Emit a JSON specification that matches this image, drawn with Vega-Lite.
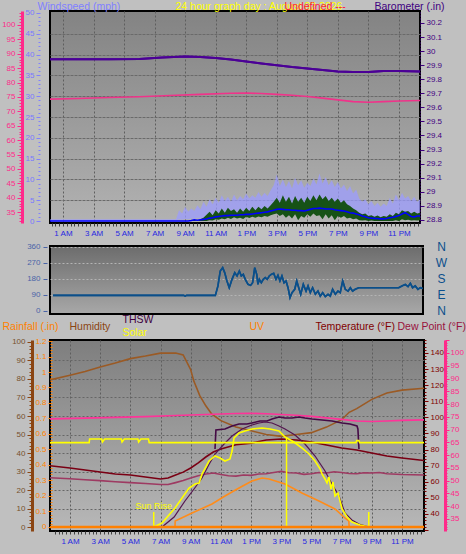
{
"$schema": "https://vega.github.io/schema/vega-lite/v6.json",
"background": "#c0c0c0",
"padding": 0,
"autosize": {"type": "pad"},
"columns": 1,
"align": "none",
"bounds": "full",
"spacing": -5,
"config": {
 "font": "Liberation Sans",
 "axis": {"labelFont": "Liberation Sans Narrow, Liberation Sans", "labelFontSize": 8, "titleFont": "Liberation Sans", "titleFontSize": 10.5, "titleFontWeight": "normal", "labelOverlap": false, "labelFlush": false, "labelBound": false},
 "view": {"stroke": "#000", "strokeWidth": 2}
},
"datasets": {
 "baro": [{"h":-0.24,"v":29.942},{"h":2,"v":29.942},{"h":4,"v":29.942},{"h":6,"v":29.944},{"h":7.5,"v":29.955},{"h":9,"v":29.962},{"h":10,"v":29.958},{"h":11,"v":29.951},{"h":12,"v":29.94},{"h":13,"v":29.926},{"h":14,"v":29.912},{"h":15,"v":29.9},{"h":16,"v":29.887},{"h":17,"v":29.877},{"h":18,"v":29.866},{"h":19,"v":29.855},{"h":20,"v":29.852},{"h":21,"v":29.852},{"h":22,"v":29.859},{"h":23,"v":29.859},{"h":24.38,"v":29.855}],
 "intemp": [{"h":-0.33,"v":74.2},{"h":2,"v":74.5},{"h":4,"v":74.8},{"h":6,"v":75.1},{"h":8,"v":75.5},{"h":10,"v":75.9},{"h":12,"v":76.3},{"h":13,"v":76.4},{"h":14,"v":76.2},{"h":15,"v":75.9},{"h":16,"v":75.6},{"h":17,"v":75.2},{"h":18,"v":74.6},{"h":19,"v":74},{"h":20,"v":73.4},{"h":21,"v":73.2},{"h":22,"v":73.4},{"h":23,"v":73.6},{"h":24.46,"v":73.8}],
 "wind": [
  {"h":-0.24,"gh":0.4,"gl":0,"sh":0,"sl":0,"a":0},{"h":8.4,"gh":0.4,"gl":0,"sh":0,"sl":0,"a":0},
  {"h":8.6,"gh":2.6,"gl":0.4,"sh":0,"sl":0,"a":0},{"h":8.8,"gh":1.8,"gl":0.3,"sh":0,"sl":0,"a":0},
  {"h":9.0,"gh":3.4,"gl":0.5,"sh":0,"sl":0,"a":0},{"h":9.2,"gh":2.2,"gl":0.4,"sh":0,"sl":0,"a":0},
  {"h":9.4,"gh":3.0,"gl":0.6,"sh":0,"sl":0,"a":0.1},{"h":9.6,"gh":2.4,"gl":0.5,"sh":0.3,"sl":0,"a":0.3},
  {"h":9.8,"gh":3.8,"gl":0.7,"sh":0,"sl":0,"a":0.2},{"h":10.0,"gh":2.8,"gl":0.6,"sh":0.4,"sl":0,"a":0.3},
  {"h":10.2,"gh":4.6,"gl":0.9,"sh":0.8,"sl":0,"a":0.4},{"h":10.4,"gh":3.4,"gl":1.0,"sh":1.5,"sl":0,"a":0.5},
  {"h":10.6,"gh":5.2,"gl":1.2,"sh":2.2,"sl":0.2,"a":0.7},{"h":10.8,"gh":4.0,"gl":1.3,"sh":1.4,"sl":0.1,"a":0.8},
  {"h":11.0,"gh":5.6,"gl":1.5,"sh":2.6,"sl":0.4,"a":1.0},{"h":11.2,"gh":4.4,"gl":1.6,"sh":1.8,"sl":0.3,"a":1.1},
  {"h":11.4,"gh":6.2,"gl":1.8,"sh":3.0,"sl":0.6,"a":1.2},{"h":11.6,"gh":4.8,"gl":1.7,"sh":2.0,"sl":0.4,"a":1.3},
  {"h":11.8,"gh":5.8,"gl":2.0,"sh":3.2,"sl":0.8,"a":1.3},{"h":12.0,"gh":4.6,"gl":1.8,"sh":2.4,"sl":0.5,"a":1.4},
  {"h":12.2,"gh":6.4,"gl":2.1,"sh":2.8,"sl":0.9,"a":1.4},{"h":12.4,"gh":5.0,"gl":1.9,"sh":2.0,"sl":0.6,"a":1.4},
  {"h":12.6,"gh":6.0,"gl":2.2,"sh":3.0,"sl":0.8,"a":1.5},{"h":12.8,"gh":5.2,"gl":2.0,"sh":2.2,"sl":0.5,"a":1.5},
  {"h":13.0,"gh":6.6,"gl":2.3,"sh":3.2,"sl":1.0,"a":1.6},{"h":13.2,"gh":5.4,"gl":2.1,"sh":2.4,"sl":0.7,"a":1.6},
  {"h":13.4,"gh":6.2,"gl":2.4,"sh":3.4,"sl":1.0,"a":1.7},{"h":13.6,"gh":5.6,"gl":2.2,"sh":2.6,"sl":0.8,"a":1.8},
  {"h":13.8,"gh":7.0,"gl":2.6,"sh":3.4,"sl":1.1,"a":1.9},{"h":14.0,"gh":5.8,"gl":2.4,"sh":2.8,"sl":0.9,"a":2.0},
  {"h":14.2,"gh":6.8,"gl":2.6,"sh":3.6,"sl":1.2,"a":2.1},{"h":14.4,"gh":6.0,"gl":2.5,"sh":3.0,"sl":1.0,"a":2.2},
  {"h":14.6,"gh":7.4,"gl":2.8,"sh":3.8,"sl":1.4,"a":2.4},{"h":14.8,"gh":8.6,"gl":3.0,"sh":4.6,"sl":1.6,"a":2.6},
  {"h":15.0,"gh":11.2,"gl":3.4,"sh":5.6,"sl":1.8,"a":2.8},{"h":15.2,"gh":8.4,"gl":3.2,"sh":4.4,"sl":1.2,"a":2.9},
  {"h":15.4,"gh":10.0,"gl":3.6,"sh":6.2,"sl":1.6,"a":2.8},{"h":15.6,"gh":8.2,"gl":3.4,"sh":4.6,"sl":0.8,"a":2.7},
  {"h":15.8,"gh":9.6,"gl":3.5,"sh":5.8,"sl":1.4,"a":2.7},{"h":16.0,"gh":7.8,"gl":3.2,"sh":4.2,"sl":0.6,"a":2.6},
  {"h":16.2,"gh":10.4,"gl":3.6,"sh":6.0,"sl":1.6,"a":2.6},{"h":16.4,"gh":8.6,"gl":3.3,"sh":4.6,"sl":0.2,"a":2.5},
  {"h":16.6,"gh":9.8,"gl":3.5,"sh":5.6,"sl":1.2,"a":2.5},{"h":16.8,"gh":8.0,"gl":3.2,"sh":4.4,"sl":0.8,"a":2.4},
  {"h":17.0,"gh":9.2,"gl":3.6,"sh":5.8,"sl":1.6,"a":2.6},{"h":17.2,"gh":8.4,"gl":3.4,"sh":4.8,"sl":1.0,"a":2.8},
  {"h":17.4,"gh":10.2,"gl":3.8,"sh":6.2,"sl":1.8,"a":3.0},{"h":17.6,"gh":8.8,"gl":3.5,"sh":5.0,"sl":1.2,"a":3.0},
  {"h":17.8,"gh":11.4,"gl":3.9,"sh":6.4,"sl":1.4,"a":3.1},{"h":18.0,"gh":9.0,"gl":3.6,"sh":5.2,"sl":0.4,"a":3.0},
  {"h":18.2,"gh":10.6,"gl":3.8,"sh":6.0,"sl":1.6,"a":2.9},{"h":18.4,"gh":8.6,"gl":3.4,"sh":4.8,"sl":0.6,"a":2.9},
  {"h":18.6,"gh":9.8,"gl":3.6,"sh":5.6,"sl":1.4,"a":2.9},{"h":18.8,"gh":8.2,"gl":3.2,"sh":4.6,"sl":0.2,"a":2.7},
  {"h":19.0,"gh":9.4,"gl":3.3,"sh":5.4,"sl":1.2,"a":2.6},{"h":19.2,"gh":7.8,"gl":3.0,"sh":4.4,"sl":0.8,"a":2.5},
  {"h":19.4,"gh":8.8,"gl":3.0,"sh":5.0,"sl":1.2,"a":2.4},{"h":19.6,"gh":7.2,"gl":2.8,"sh":4.0,"sl":0.6,"a":2.2},
  {"h":19.8,"gh":8.4,"gl":2.6,"sh":3.6,"sl":0.8,"a":2.0},{"h":20.0,"gh":6.6,"gl":2.2,"sh":3.0,"sl":0.4,"a":1.9},
  {"h":20.2,"gh":7.6,"gl":2.0,"sh":2.6,"sl":0.6,"a":1.7},{"h":20.4,"gh":5.4,"gl":1.6,"sh":2.0,"sl":0.2,"a":1.5},
  {"h":20.6,"gh":4.6,"gl":1.3,"sh":1.6,"sl":0.1,"a":1.2},{"h":20.8,"gh":5.2,"gl":1.1,"sh":1.8,"sl":0.2,"a":1.0},
  {"h":21.0,"gh":4.0,"gl":0.9,"sh":1.2,"sl":0,"a":0.8},{"h":21.2,"gh":4.8,"gl":0.8,"sh":1.4,"sl":0.1,"a":0.7},
  {"h":21.4,"gh":3.6,"gl":0.7,"sh":1.0,"sl":0,"a":0.6},{"h":21.6,"gh":4.4,"gl":0.8,"sh":1.3,"sl":0,"a":0.6},
  {"h":21.8,"gh":3.4,"gl":0.7,"sh":0.9,"sl":0,"a":0.5},{"h":22.0,"gh":4.2,"gl":0.8,"sh":1.2,"sl":0,"a":0.5},
  {"h":22.2,"gh":3.6,"gl":0.8,"sh":1.0,"sl":0,"a":0.6},{"h":22.4,"gh":5.6,"gl":1.0,"sh":1.6,"sl":0,"a":0.8},
  {"h":22.6,"gh":4.2,"gl":1.0,"sh":1.2,"sl":0,"a":0.9},{"h":22.8,"gh":6.4,"gl":1.2,"sh":2.0,"sl":0.2,"a":1.1},
  {"h":23.0,"gh":5.0,"gl":1.3,"sh":1.6,"sl":0,"a":1.3},{"h":23.2,"gh":6.8,"gl":1.6,"sh":2.6,"sl":0.4,"a":1.7},
  {"h":23.4,"gh":5.4,"gl":1.5,"sh":2.2,"sl":0.2,"a":2.0},{"h":23.6,"gh":6.0,"gl":1.4,"sh":2.4,"sl":0.3,"a":1.6},
  {"h":23.8,"gh":4.8,"gl":1.2,"sh":1.8,"sl":0.1,"a":1.1},{"h":24.0,"gh":5.8,"gl":1.3,"sh":2.2,"sl":0.2,"a":1.0},
  {"h":24.2,"gh":4.6,"gl":1.2,"sh":1.8,"sl":0.1,"a":1.2},{"h":24.38,"gh":5.2,"gl":1.3,"sh":2.0,"sl":0.2,"a":1.2}],
 "wdir": [{"h":0.35,"d":88},{"h":8.9,"d":88},{"h":9.0,"d":84},{"h":9.1,"d":88},{"h":10.98,"d":88},{"h":11.15,"d":141},{"h":11.3,"d":225},{"h":11.46,"d":244},{"h":11.59,"d":216},{"h":11.74,"d":169},{"h":11.89,"d":131},{"h":12.07,"d":178},{"h":12.25,"d":216},{"h":12.4,"d":197},{"h":12.55,"d":225},{"h":12.68,"d":197},{"h":12.81,"d":206},{"h":12.94,"d":178},{"h":13.12,"d":150},{"h":13.29,"d":144},{"h":13.42,"d":159},{"h":13.56,"d":244},{"h":13.69,"d":206},{"h":13.77,"d":150},{"h":13.86,"d":178},{"h":13.99,"d":159},{"h":14.12,"d":178},{"h":14.25,"d":188},{"h":14.38,"d":178},{"h":14.51,"d":197},{"h":14.64,"d":206},{"h":14.8,"d":212},{"h":14.95,"d":178},{"h":15.08,"d":201},{"h":15.21,"d":169},{"h":15.34,"d":197},{"h":15.48,"d":159},{"h":15.61,"d":169},{"h":15.74,"d":131},{"h":15.87,"d":75},{"h":16.0,"d":103},{"h":16.18,"d":122},{"h":16.31,"d":169},{"h":16.44,"d":131},{"h":16.57,"d":94},{"h":16.74,"d":150},{"h":16.92,"d":112},{"h":17.05,"d":141},{"h":17.2,"d":103},{"h":17.35,"d":131},{"h":17.53,"d":94},{"h":17.7,"d":112},{"h":17.85,"d":84},{"h":18.01,"d":103},{"h":18.18,"d":81},{"h":18.36,"d":94},{"h":18.51,"d":84},{"h":18.66,"d":122},{"h":18.84,"d":94},{"h":19.01,"d":112},{"h":19.16,"d":103},{"h":19.32,"d":169},{"h":19.49,"d":122},{"h":19.67,"d":112},{"h":19.82,"d":131},{"h":19.97,"d":112},{"h":20.14,"d":122},{"h":20.37,"d":131},{"h":22.99,"d":131},{"h":23.2,"d":141},{"h":23.42,"d":150},{"h":23.6,"d":137},{"h":23.75,"d":156},{"h":23.9,"d":131},{"h":24.07,"d":141},{"h":24.25,"d":122},{"h":24.4,"d":131},{"h":24.56,"d":127}],
 "hum": [{"h":-0.33,"v":79.5},{"h":1,"v":82},{"h":2,"v":84},{"h":3,"v":86.5},{"h":4,"v":88.6},{"h":5,"v":91},{"h":6,"v":92.4},{"h":7,"v":94},{"h":8,"v":94},{"h":8.5,"v":93},{"h":9,"v":85},{"h":9.2,"v":79},{"h":9.6,"v":71},{"h":10,"v":65.5},{"h":10.4,"v":61},{"h":11,"v":57.5},{"h":12,"v":54},{"h":13,"v":52},{"h":14,"v":50},{"h":15,"v":49},{"h":16,"v":50},{"h":17,"v":51},{"h":18,"v":54},{"h":19,"v":58},{"h":19.5,"v":62},{"h":20,"v":64},{"h":21,"v":69},{"h":22,"v":72.4},{"h":23,"v":74},{"h":24.46,"v":75}],
 "temp": [{"h":-0.33,"v":70},{"h":1,"v":68.6},{"h":2,"v":67.3},{"h":3,"v":66.1},{"h":4,"v":64.8},{"h":5,"v":64.2},{"h":6,"v":63},{"h":7,"v":61.7},{"h":7.5,"v":62.4},{"h":8,"v":64.2},{"h":8.5,"v":66},{"h":9,"v":68.6},{"h":9.5,"v":71.7},{"h":10,"v":75.4},{"h":10.5,"v":78.5},{"h":11,"v":80.4},{"h":12,"v":83},{"h":13,"v":84},{"h":14,"v":86},{"h":15,"v":86.6},{"h":16,"v":86},{"h":17,"v":84.7},{"h":18,"v":82.9},{"h":19,"v":81},{"h":20,"v":79.8},{"h":21,"v":77.9},{"h":22,"v":76},{"h":23,"v":74.8},{"h":24.46,"v":73.2}],
 "dew": [{"h":-0.33,"v":62.5},{"h":1,"v":61.9},{"h":2,"v":61.3},{"h":3,"v":60.7},{"h":4,"v":60},{"h":5,"v":59.5},{"h":6,"v":58.9},{"h":7,"v":58.3},{"h":7.5,"v":58.3},{"h":8,"v":59.5},{"h":8.5,"v":60.8},{"h":9,"v":62.4},{"h":9.5,"v":63.8},{"h":10,"v":64.8},{"h":10.5,"v":65.5},{"h":11,"v":64.5},{"h":11.5,"v":63.8},{"h":12,"v":63.5},{"h":12.5,"v":64.2},{"h":13,"v":64},{"h":13.5,"v":64.8},{"h":14,"v":65},{"h":14.5,"v":65.8},{"h":15,"v":66.5},{"h":15.5,"v":65.6},{"h":16,"v":65.5},{"h":16.5,"v":64.6},{"h":17,"v":65},{"h":17.5,"v":65.8},{"h":18,"v":65.5},{"h":18.5,"v":66.2},{"h":19,"v":65.8},{"h":19.5,"v":65.2},{"h":20,"v":65},{"h":20.5,"v":65.6},{"h":21,"v":65.5},{"h":21.5,"v":65.8},{"h":22,"v":65},{"h":23,"v":64.5},{"h":24.46,"v":64.2}],
 "thsw": [{"h":10.61,"v":80.4},{"h":10.67,"v":92.2},{"h":11.27,"v":92.8},{"h":11.74,"v":94.7},{"h":12.2,"v":95.9},{"h":12.73,"v":95.9},{"h":13.06,"v":96.5},{"h":13.59,"v":97.8},{"h":14.06,"v":97.8},{"h":14.39,"v":99},{"h":14.85,"v":100.2},{"h":15.25,"v":99.6},{"h":15.71,"v":99.6},{"h":16.18,"v":100.2},{"h":16.57,"v":99.6},{"h":17.04,"v":99},{"h":17.7,"v":98.4},{"h":18.36,"v":97.8},{"h":19.03,"v":96.5},{"h":19.56,"v":95.9},{"h":20.02,"v":94.7},{"h":20.08,"v":92.8},{"h":20.15,"v":80.4}],
 "solar": [{"h":-0.33,"v":0},{"h":6.55,"v":0},{"h":7.1,"v":36},{"h":7.96,"v":171},{"h":8.89,"v":351},{"h":9.29,"v":387},{"h":9.55,"v":396},{"h":9.75,"v":477},{"h":10.21,"v":594},{"h":10.61,"v":639},{"h":10.94,"v":621},{"h":11.27,"v":594},{"h":11.6,"v":612},{"h":11.74,"v":684},{"h":11.87,"v":801},{"h":12.2,"v":846},{"h":12.6,"v":864},{"h":13.06,"v":882},{"h":13.73,"v":891},{"h":14.26,"v":882},{"h":14.85,"v":864},{"h":15.25,"v":810},{"h":15.84,"v":765},{"h":16.37,"v":711},{"h":16.84,"v":657},{"h":17.24,"v":594},{"h":17.58,"v":522},{"h":17.7,"v":477},{"h":17.9,"v":432},{"h":18.03,"v":396},{"h":18.16,"v":450},{"h":18.3,"v":342},{"h":18.43,"v":405},{"h":18.56,"v":279},{"h":18.76,"v":306},{"h":19.03,"v":162},{"h":19.36,"v":90},{"h":19.68,"v":45},{"h":20.22,"v":18},{"h":20.81,"v":0},{"h":24.46,"v":0}],
 "bell": [{"h":7.1,"v":0},{"h":7.9,"v":90},{"h":8.62,"v":234},{"h":9.22,"v":342},{"h":9.75,"v":441},{"h":10.2,"v":560},{"h":10.61,"v":657},{"h":11.21,"v":747},{"h":11.74,"v":819},{"h":12.4,"v":882},{"h":13.06,"v":918},{"h":13.53,"v":936},{"h":13.92,"v":945},{"h":14.39,"v":936},{"h":14.85,"v":909},{"h":15.25,"v":882},{"h":15.91,"v":828},{"h":16.57,"v":747},{"h":17.24,"v":639},{"h":17.9,"v":504},{"h":18.36,"v":387},{"h":18.83,"v":279},{"h":19.22,"v":126},{"h":19.68,"v":63},{"h":20.15,"v":27},{"h":20.81,"v":0}],
 "solarmax": [{"h":-0.33,"v":759},{"h":2.27,"v":759},{"h":2.3,"v":792},{"h":3.1,"v":792},{"h":3.15,"v":765},{"h":3.3,"v":792},{"h":4.4,"v":792},{"h":4.45,"v":765},{"h":4.6,"v":792},{"h":5.5,"v":792},{"h":5.55,"v":765},{"h":5.7,"v":792},{"h":6.2,"v":792},{"h":6.25,"v":759},{"h":19.95,"v":759},{"h":20.0,"v":777},{"h":20.15,"v":777},{"h":20.2,"v":759},{"h":24.46,"v":759}],
 "uv": [{"h":-0.33,"v":0},{"h":7.96,"v":0},{"h":7.97,"v":0.6},{"h":9.09,"v":1.4},{"h":10.41,"v":2.3},{"h":11.27,"v":3.1},{"h":12.2,"v":3.9},{"h":13.06,"v":4.6},{"h":13.73,"v":4.9},{"h":14.19,"v":4.8},{"h":15.25,"v":4.3},{"h":16.37,"v":3.4},{"h":17.5,"v":2.6},{"h":18.56,"v":1.8},{"h":19.22,"v":0.9},{"h":19.48,"v":0.6},{"h":19.5,"v":0},{"h":24.46,"v":0}],
 "markers": [{"h":6.55,"lo":0,"hi":135,"label":"Sun Rise"},{"h":20.8,"lo":0,"hi":135,"label":""},{"h":15.35,"lo":0,"hi":804,"label":""}],
 "rain": [{"h":-0.33,"v":0},{"h":24.46,"v":0}]
},
"concat": [
 {
  "width": 370, "height": 212,
  "view": {"fill": {"gradient": "linear", "x1": 0, "y1": 0, "x2": 0, "y2": 1, "stops": [{"offset": 0, "color": "#838383"}, {"offset": 1, "color": "#b2b2b2"}]}, "stroke": "#000", "strokeWidth": 2},
  "encoding": {"x": {"field": "h", "type": "quantitative", "scale": {"domain": [0.15, 24.38], "nice": false, "zero": false},
   "axis": {"values": [0.25,0.5,0.75,1,1.25,1.5,1.75,2,2.25,2.5,2.75,3,3.25,3.5,3.75,4,4.25,4.5,4.75,5,5.25,5.5,5.75,6,6.25,6.5,6.75,7,7.25,7.5,7.75,8,8.25,8.5,8.75,9,9.25,9.5,9.75,10,10.25,10.5,10.75,11,11.25,11.5,11.75,12,12.25,12.5,12.75,13,13.25,13.5,13.75,14,14.25,14.5,14.75,15,15.25,15.5,15.75,16,16.25,16.5,16.75,17,17.25,17.5,17.75,18,18.25,18.5,18.75,19,19.25,19.5,19.75,20,20.25,20.5,20.75,21,21.25,21.5,21.75,22,22.25,22.5,22.75,23,23.25,23.5,23.75,24,24.25],
    "labelExpr": "datum.value % 2 == 1 ? (datum.value < 12 ? datum.value + ' AM' : (datum.value - 12) + ' PM') : ''",
    "labelColor": "#2828e0", "labelPadding": 3, "tickSize": 3, "tickColor": "#404040", "domain": false,
    "grid": true, "gridColor": "#5e5e5e", "gridDash": [2, 2], "gridOpacity": {"condition": {"test": "datum.value % 2 == 1", "value": 1}, "value": 0},
    "title": "x", "titleOpacity": 0, "titleX": -48, "titleY": 19, "titleAlign": "left", "titleBaseline": "bottom"}}},
  "layer": [
   {"data": {"name": "wind"}, "mark": {"type": "area", "color": "#9c9cff", "opacity": 0.75, "clip": true},
    "encoding": {"y": {"field": "gh", "type": "quantitative", "scale": {"domain": [-0.48, 50.48], "nice": false, "zero": false},
      "axis": {"orient": "left", "offset": 10, "values": [0,1,2,3,4,5,6,7,8,9,10,11,12,13,14,15,16,17,18,19,20,21,22,23,24,25,26,27,28,29,30,31,32,33,34,35,36,37,38,39,40,41,42,43,44,45,46,47,48,49,50],
       "labelExpr": "datum.value % 5 == 0 ? datum.label : ''", "labelColor": "#7878ff", "labelPadding": 2,
       "tickColor": "#8080ff", "tickSize": {"condition": {"test": "datum.value % 5 == 0", "value": 4}, "value": 2}, "domain": false,
       "grid": true, "gridColor": "#6a6a6a", "gridDash": [3, 1], "gridOpacity": {"condition": {"test": "datum.value % 5 == 0 && datum.value > 0 && datum.value < 50", "value": 1}, "value": 0},
       "title": "Windspeed (mph)", "titleColor": "#8080ff", "titleAngle": 0, "titleX": -3, "titleY": 0.5, "titleAlign": "left", "titleBaseline": "bottom"}},
     "y2": {"field": "gl"}}},
   {"data": {"name": "wind"}, "mark": {"type": "area", "color": "#165216", "clip": true},
    "encoding": {"y": {"field": "sh", "type": "quantitative", "scale": {"domain": [-0.48, 50.48], "nice": false, "zero": false}, "axis": null}, "y2": {"field": "sl"}}},
   {"data": {"name": "wind"}, "mark": {"type": "line", "color": "#0000ff", "strokeWidth": 1.6, "clip": true},
    "encoding": {"y": {"field": "a", "type": "quantitative", "scale": {"domain": [-0.48, 50.48], "nice": false, "zero": false}, "axis": null}}},
   {"data": {"name": "baro"}, "mark": {"type": "line", "color": "#4b0096", "strokeWidth": 2, "clip": true},
    "encoding": {"y": {"field": "v", "type": "quantitative", "scale": {"domain": [28.778, 30.285], "nice": false, "zero": false},
      "axis": {"orient": "left", "offset": 0, "domain": false, "ticks": false, "labels": false, "grid": false, "title": "24 hour graph day : August 02 2026", "titleColor": "#ffff00", "titleAngle": 0, "titleX": 125, "titleY": 0.5, "titleAlign": "left", "titleBaseline": "bottom"}}}},
   {"data": {"name": "intemp"}, "mark": {"type": "line", "color": "#f0338a", "strokeWidth": 1.6, "clip": true},
    "encoding": {"y": {"field": "v", "type": "quantitative", "scale": {"domain": [31.25, 104.86], "nice": false, "zero": false},
      "axis": {"orient": "left", "offset": 28, "values": [32,33,34,35,36,37,38,39,40,41,42,43,44,45,46,47,48,49,50,51,52,53,54,55,56,57,58,59,60,61,62,63,64,65,66,67,68,69,70,71,72,73,74,75,76,77,78,79,80,81,82,83,84,85,86,87,88,89,90,91,92,93,94,95,96,97,98,99,100,101,102,103,104],
       "labelExpr": "datum.value % 5 == 0 ? datum.label : ''", "labelColor": "#ff2a8a", "labelPadding": 2,
       "tickColor": "#ff2a8a", "tickSize": {"condition": {"test": "datum.value % 5 == 0", "value": 5}, "value": 3},
       "domain": true, "domainColor": "#ff2a8a", "domainWidth": 3, "grid": false,
       "title": "Undefined ---", "titleColor": "#ff1a3c", "titleAngle": 0, "titleX": 262, "titleY": 0.5, "titleAlign": "left", "titleBaseline": "bottom"}}}},
   {"data": {"name": "baro"}, "mark": {"type": "line", "color": "#4b0096", "strokeWidth": 2, "clip": true},
    "encoding": {"y": {"field": "v", "type": "quantitative", "scale": {"domain": [28.778, 30.285], "nice": false, "zero": false},
      "axis": {"orient": "right", "offset": 0, "values": [28.8,28.9,29,29.1,29.2,29.3,29.4,29.5,29.6,29.7,29.8,29.9,30,30.1,30.2],
       "labelExpr": "replace(format(datum.value, '.1f'), '.0', '')", "labelColor": "#400080", "labelPadding": 2,
       "tickColor": "#400080", "tickSize": 4, "domain": true, "domainColor": "#400080", "domainDash": [1, 2], "grid": false,
       "title": "Barometer (.in)", "titleColor": "#400080", "titleAngle": 0, "titleX": -46, "titleY": 0.5, "titleAlign": "left", "titleBaseline": "bottom"}}}}
  ],
  "resolve": {"scale": {"y": "independent"}, "axis": {"y": "independent"}}
 },
 {
  "width": 373, "height": 68,
  "view": {"fill": {"gradient": "linear", "x1": 0, "y1": 0, "x2": 0, "y2": 1, "stops": [{"offset": 0, "color": "#6c6c6c"}, {"offset": 1, "color": "#a8a8a8"}]}, "stroke": "#000", "strokeWidth": 2},
  "encoding": {"x": {"field": "h", "type": "quantitative", "scale": {"domain": [0.15, 24.58], "nice": false, "zero": false}, "axis": null}},
  "layer": [
   {"data": {"name": "wdir"}, "mark": {"type": "line", "color": "#0b4f8a", "strokeWidth": 1.6, "clip": true},
    "encoding": {"y": {"field": "d", "type": "quantitative", "scale": {"domain": [-16.9, 365.6], "nice": false, "zero": false},
      "axis": {"orient": "left", "offset": 3, "values": [0, 90, 180, 270, 360], "labelColor": "#4a64a8", "labelPadding": 3, "tickColor": "#4a64a8", "tickSize": 4, "domain": false,
       "grid": true, "gridColor": "#b4b4b4", "gridDash": [2, 2], "gridOpacity": {"condition": {"test": "datum.value > 0", "value": 1}, "value": 0},
       "title": "x", "titleOpacity": 0, "titleAngle": 0, "titleX": -45, "titleY": 34, "titleAlign": "left", "titleBaseline": "middle"}}}},
   {"data": {"name": "wdir"}, "mark": {"type": "line", "color": "#0b4f8a", "strokeWidth": 1.6, "clip": true},
    "encoding": {"y": {"field": "d", "type": "quantitative", "scale": {"domain": [-16.9, 365.6], "nice": false, "zero": false},
      "axis": {"orient": "right", "offset": 0, "values": [0, 90, 180, 270, 360], "labelExpr": "datum.value == 90 ? 'E' : datum.value == 180 ? 'S' : datum.value == 270 ? 'W' : 'N'",
       "labelColor": "#0b4f8c", "labelFont": "Liberation Sans", "labelFontSize": 12, "labelAlign": "center", "labelBaseline": "middle", "labelPadding": 18, "ticks": false, "tickSize": 0, "domain": false, "grid": false, "title": null}}}}
  ],
  "resolve": {"scale": {"y": "independent"}, "axis": {"y": "independent"}}
 },
 {
  "width": 374, "height": 191,
  "view": {"fill": {"gradient": "linear", "x1": 0, "y1": 0, "x2": 0, "y2": 1, "stops": [{"offset": 0, "color": "#7e7e7e"}, {"offset": 1, "color": "#b8b8b8"}]}, "stroke": "#000", "strokeWidth": 2},
  "encoding": {"x": {"field": "h", "type": "quantitative", "scale": {"domain": [-0.325, 24.46], "nice": false, "zero": false},
   "axis": {"values": [0,0.25,0.5,0.75,1,1.25,1.5,1.75,2,2.25,2.5,2.75,3,3.25,3.5,3.75,4,4.25,4.5,4.75,5,5.25,5.5,5.75,6,6.25,6.5,6.75,7,7.25,7.5,7.75,8,8.25,8.5,8.75,9,9.25,9.5,9.75,10,10.25,10.5,10.75,11,11.25,11.5,11.75,12,12.25,12.5,12.75,13,13.25,13.5,13.75,14,14.25,14.5,14.75,15,15.25,15.5,15.75,16,16.25,16.5,16.75,17,17.25,17.5,17.75,18,18.25,18.5,18.75,19,19.25,19.5,19.75,20,20.25,20.5,20.75,21,21.25,21.5,21.75,22,22.25,22.5,22.75,23,23.25,23.5,23.75,24,24.25],
    "labelExpr": "datum.value % 2 == 1 ? (datum.value < 12 ? datum.value + ' AM' : (datum.value - 12) + ' PM') : ''",
    "labelColor": "#2828e0", "labelPadding": 3, "tickSize": 3, "tickColor": "#404040", "domain": false,
    "grid": true, "gridColor": "#5e5e5e", "gridDash": [2, 2], "gridOpacity": {"condition": {"test": "datum.value % 2 == 1", "value": 1}, "value": 0},
    "title": "x", "titleOpacity": 0, "titleX": 417, "titleY": 23, "titleAlign": "right", "titleBaseline": "bottom"}}},
  "layer": [
   {"data": {"name": "hum"}, "mark": {"type": "line", "color": "#9b5a24", "strokeWidth": 1.6, "clip": true},
    "encoding": {"y": {"field": "v", "type": "quantitative", "scale": {"domain": [-2.16, 101.08], "nice": false, "zero": false},
      "axis": {"orient": "left", "offset": 18, "values": [0,2,4,6,8,10,12,14,16,18,20,22,24,26,28,30,32,34,36,38,40,42,44,46,48,50,52,54,56,58,60,62,64,66,68,70,72,74,76,78,80,82,84,86,88,90,92,94,96,98,100],
       "labelExpr": "datum.value % 10 == 0 ? datum.label : ''", "labelColor": "#76502e", "labelPadding": 2,
       "tickColor": "#8b4513", "tickSize": {"condition": {"test": "datum.value % 10 == 0", "value": 5}, "value": 3},
       "domain": true, "domainColor": "#8b4513", "domainWidth": 3,
       "grid": true, "gridColor": "#666666", "gridDash": [2, 2], "gridOpacity": {"condition": {"test": "datum.value % 10 == 0 && datum.value > 0 && datum.value < 100", "value": 1}, "value": 0},
       "title": "Humidity", "titleColor": "#8b4513", "titleAngle": 0, "titleX": 37, "titleY": -14, "titleAlign": "left", "titleBaseline": "middle"}}}},
   {"data": {"name": "intemp"}, "mark": {"type": "line", "color": "#ff3399", "strokeWidth": 1.6, "clip": true},
    "encoding": {"y": {"field": "v", "type": "quantitative", "scale": {"domain": [30.3, 105.09], "nice": false, "zero": false},
      "axis": {"orient": "right", "offset": 21, "values": [31,32,33,34,35,36,37,38,39,40,41,42,43,44,45,46,47,48,49,50,51,52,53,54,55,56,57,58,59,60,61,62,63,64,65,66,67,68,69,70,71,72,73,74,75,76,77,78,79,80,81,82,83,84,85,86,87,88,89,90,91,92,93,94,95,96,97,98,99,100,101,102,103,104,105],
       "labelExpr": "datum.value % 5 == 0 && datum.value >= 35 && datum.value <= 100 ? datum.label : ''", "labelColor": "#ff2a8a", "labelPadding": 1,
       "tickColor": "#ff2a8a", "tickSize": {"condition": {"test": "datum.value % 5 == 0", "value": 4}, "value": 2},
       "domain": true, "domainColor": "#ff2a8a", "domainWidth": 3, "grid": false,
       "title": "Dew Point (°F)", "titleColor": "#99113d", "titleAngle": 0, "titleX": -48, "titleY": -14, "titleAlign": "left", "titleBaseline": "middle"}}}},
   {"data": {"name": "dew"}, "mark": {"type": "line", "color": "#9e3a62", "strokeWidth": 1.6, "clip": true},
    "encoding": {"y": {"field": "v", "type": "quantitative", "scale": {"domain": [29.44, 148.07], "nice": false, "zero": false}, "axis": null}}},
   {"data": {"name": "temp"}, "mark": {"type": "line", "color": "#7a0014", "strokeWidth": 1.6, "clip": true},
    "encoding": {"y": {"field": "v", "type": "quantitative", "scale": {"domain": [29.44, 148.07], "nice": false, "zero": false},
      "axis": {"orient": "right", "offset": 0, "values": [30,32,34,36,38,40,42,44,46,48,50,52,54,56,58,60,62,64,66,68,70,72,74,76,78,80,82,84,86,88,90,92,94,96,98,100,102,104,106,108,110,112,114,116,118,120,122,124,126,128,130,132,134,136,138,140,142,144,146,148],
       "labelExpr": "datum.value % 10 == 0 && datum.value >= 40 && datum.value <= 140 ? datum.label : ''", "labelColor": "#800000", "labelPadding": 2,
       "tickColor": "#800000", "tickSize": {"condition": {"test": "datum.value % 10 == 0", "value": 4}, "value": 2}, "domain": false, "grid": false,
       "title": "Temperature (°F)", "titleColor": "#800000", "titleAngle": 0, "titleX": -109, "titleY": -14, "titleAlign": "left", "titleBaseline": "middle"}}}},
   {"data": {"name": "thsw"}, "mark": {"type": "line", "color": "#450a45", "strokeWidth": 1.6, "clip": true},
    "encoding": {"y": {"field": "v", "type": "quantitative", "scale": {"domain": [29.44, 148.07], "nice": false, "zero": false},
      "axis": {"orient": "left", "offset": 0, "domain": false, "ticks": false, "labels": false, "grid": false, "title": "THSW", "titleColor": "#400040", "titleAngle": 0, "titleX": 72, "titleY": -21, "titleAlign": "left", "titleBaseline": "middle"}}}},
   {"data": {"name": "uv"}, "mark": {"type": "line", "color": "#ff8c1a", "strokeWidth": 1.6, "clip": true},
    "encoding": {"y": {"field": "v", "type": "quantitative", "scale": {"domain": [-0.4, 18.7], "nice": false, "zero": false},
      "axis": {"orient": "left", "offset": 0, "domain": false, "ticks": false, "labels": false, "grid": false, "title": "UV", "titleColor": "#ff8000", "titleAngle": 0, "titleX": 199, "titleY": -14, "titleAlign": "left", "titleBaseline": "middle"}}}},
   {"data": {"name": "bell"}, "mark": {"type": "line", "color": "#55154f", "strokeWidth": 1.2, "clip": true},
    "encoding": {"y": {"field": "v", "type": "quantitative", "scale": {"domain": [-36, 1683], "nice": false, "zero": false}, "axis": null}}},
   {"data": {"name": "solarmax"}, "mark": {"type": "line", "color": "#ffff00", "strokeWidth": 1.6, "clip": true},
    "encoding": {"y": {"field": "v", "type": "quantitative", "scale": {"domain": [-36, 1683], "nice": false, "zero": false},
      "axis": {"orient": "left", "offset": 0, "domain": false, "ticks": false, "labels": false, "grid": false, "title": "Solar", "titleColor": "#ffff00", "titleAngle": 0, "titleX": 72, "titleY": -8, "titleAlign": "left", "titleBaseline": "middle"}}}},
   {"data": {"name": "solar"}, "mark": {"type": "line", "color": "#ffff00", "strokeWidth": 1.6, "clip": true},
    "encoding": {"y": {"field": "v", "type": "quantitative", "scale": {"domain": [-36, 1683], "nice": false, "zero": false}, "axis": null}}},
   {"data": {"name": "markers"}, "mark": {"type": "rule", "color": "#ffff00", "strokeWidth": 1.5},
    "encoding": {"y": {"field": "hi", "type": "quantitative", "scale": {"domain": [-36, 1683], "nice": false, "zero": false}, "axis": null}, "y2": {"field": "lo"}}},
   {"data": {"name": "markers"}, "mark": {"type": "text", "color": "#ffff00", "font": "Liberation Sans", "fontSize": 9, "align": "center", "baseline": "bottom", "dy": -1},
    "encoding": {"y": {"field": "hi", "type": "quantitative", "scale": {"domain": [-36, 1683], "nice": false, "zero": false}, "axis": null}, "text": {"field": "label"}}},
   {"data": {"name": "rain"}, "mark": {"type": "line", "color": "#ff8000", "strokeWidth": 2.5, "clip": true},
    "encoding": {"y": {"field": "v", "type": "quantitative", "scale": {"domain": [-0.026, 1.2065], "nice": false, "zero": false},
      "axis": {"orient": "left", "offset": -2, "values": [0,0.02,0.04,0.06,0.08,0.1,0.12,0.14,0.16,0.18,0.2,0.22,0.24,0.26,0.28,0.3,0.32,0.34,0.36,0.38,0.4,0.42,0.44,0.46,0.48,0.5,0.52,0.54,0.56,0.58,0.6,0.62,0.64,0.66,0.68,0.7,0.72,0.74,0.76,0.78,0.8,0.82,0.84,0.86,0.88,0.9,0.92,0.94,0.96,0.98,1,1.02,1.04,1.06,1.08,1.1,1.12,1.14,1.16,1.18,1.2],
       "labelExpr": "abs(datum.value*10 - round(datum.value*10)) < 0.001 ? replace(format(datum.value, '.1f'), '.0', '') : ''", "labelColor": "#ff8000", "labelPadding": 2,
       "tickColor": "#ff8000", "tickSize": {"condition": {"test": "abs(datum.value*10 - round(datum.value*10)) < 0.001", "value": 4}, "value": 2}, "domain": false, "grid": false,
       "title": "Rainfall (.in)", "titleColor": "#ff8000", "titleAngle": 0, "titleX": -50, "titleY": -14, "titleAlign": "left", "titleBaseline": "middle"}}}}
  ],
  "resolve": {"scale": {"y": "independent"}, "axis": {"y": "independent"}}
 }
]
}
